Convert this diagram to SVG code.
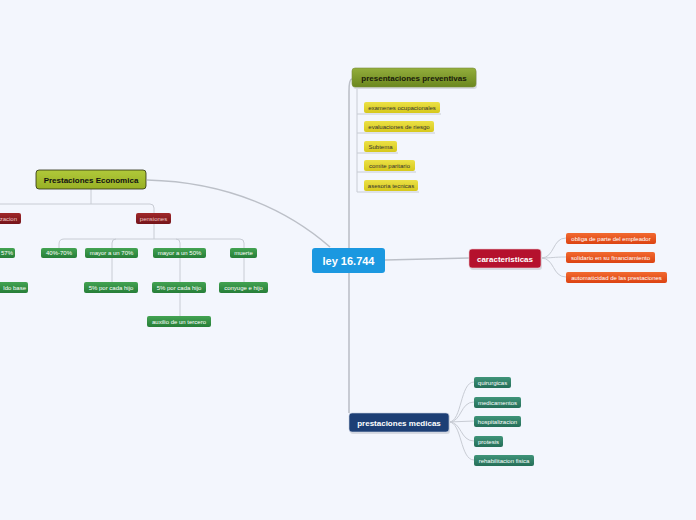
<svg xmlns="http://www.w3.org/2000/svg" width="696" height="520" viewBox="0 0 696 520">
<defs>
<linearGradient id="gOlive" x1="0" y1="0" x2="0" y2="1"><stop offset="0" stop-color="#93ae3c"/><stop offset="1" stop-color="#6b871f"/></linearGradient>
<linearGradient id="gLime" x1="0" y1="0" x2="0" y2="1"><stop offset="0" stop-color="#b0c93a"/><stop offset="1" stop-color="#98b024"/></linearGradient>
<linearGradient id="gYellow" x1="0" y1="0" x2="0" y2="1"><stop offset="0" stop-color="#ece146"/><stop offset="1" stop-color="#d6c81c"/></linearGradient>
<linearGradient id="gOrange" x1="0" y1="0" x2="0" y2="1"><stop offset="0" stop-color="#f26a30"/><stop offset="1" stop-color="#dc4312"/></linearGradient>
<linearGradient id="gTeal" x1="0" y1="0" x2="0" y2="1"><stop offset="0" stop-color="#3f9479"/><stop offset="1" stop-color="#256e58"/></linearGradient>
<linearGradient id="gGreen" x1="0" y1="0" x2="0" y2="1"><stop offset="0" stop-color="#43a352"/><stop offset="1" stop-color="#267e38"/></linearGradient>
<linearGradient id="gMaroon" x1="0" y1="0" x2="0" y2="1"><stop offset="0" stop-color="#a0282a"/><stop offset="1" stop-color="#74141a"/></linearGradient>
</defs>
<style>
text{font-family:"Liberation Sans",Arial,sans-serif;text-anchor:middle}
.sh{fill:#d7dae2}
.c1{fill:none;stroke:#bcc0c8;stroke-width:1.6}
.c2{fill:none;stroke:#c8ccd4;stroke-width:1}
.big{font-size:11px;font-weight:bold;fill:#fff}
.mid{font-size:8px;font-weight:bold}
.sm{font-size:6px;fill:#fff}
.smd{font-size:6px;fill:#333}
</style>
<rect width="696" height="520" fill="#f3f6fd"/>
<g id="connectors">
<path class="c1" d="M147,180 C230,182 290,212 330,247"/>
<path class="c1" d="M349,248 L349,92 Q349,79 352,79"/>
<path class="c1" d="M349,273 L349,413"/>
<path class="c1" d="M385,260 L469,258"/>
<path class="c2" d="M357,87 L357,192"/>
<path class="c2" d="M357,114 L441,114 M357,133 L435,133 M357,153 L398,153 M357,172 L416,172 M357,192 L419,192"/>
<path class="c2" d="M541,258 C555,258 552,238 566,238 M541,258 C553,258 553,257 566,257 M541,258 C555,258 552,277 566,277"/>
<path class="c2" d="M449,422 C462,422 460,382 474,382 M449,422 C462,422 460,402 474,402 M449,422 L474,421 M449,422 C462,422 460,441 474,441 M449,422 C462,422 460,460 474,460"/>
<path class="c2" d="M91,189 L91,204 M0,204 L150,204 Q154,204 154,208 L154,213"/>
<path class="c2" d="M154,224 L154,239 M64,239 L240,239 Q244,239 244,243 L244,248 M64,239 Q59,239 59,244 L59,248 M116,239 Q112,239 112,243 L112,248 M176,239 Q180,239 180,243 L180,248"/>
<path class="c2" d="M112,258 L112,282 M180,258 L180,316 M244,258 L244,282"/>
</g>
<g id="n-ley"><rect x="312" y="248" width="73" height="25" rx="3" fill="#1b98e0"/><text class="big" x="348.5" y="264.5">ley 16.744</text></g>
<g id="n-prev"><rect class="sh" x="353" y="70" width="124" height="19" rx="3"/><rect x="352" y="68" width="124" height="19" rx="3" fill="url(#gOlive)" stroke="#7a8f3a" stroke-width="0.6"/><text class="mid" x="414" y="80.5" fill="#1a1a0a">presentaciones preventivas</text></g>
<g id="n-p1"><rect x="364" y="102" width="76" height="11" rx="2" fill="url(#gYellow)"/><text class="smd" x="402" y="109.8">examenes ocupacionales</text></g>
<g id="n-p2"><rect x="364" y="121" width="70" height="11" rx="2" fill="url(#gYellow)"/><text class="smd" x="399" y="128.8">evaluaciones de riesgo</text></g>
<g id="n-p3"><rect x="364" y="141" width="33" height="11" rx="2" fill="url(#gYellow)"/><text class="smd" x="380.5" y="148.8">Subtema</text></g>
<g id="n-p4"><rect x="364" y="160" width="51" height="11" rx="2" fill="url(#gYellow)"/><text class="smd" x="389.5" y="167.8">comite paritario</text></g>
<g id="n-p5"><rect x="364" y="180" width="54" height="11" rx="2" fill="url(#gYellow)"/><text class="smd" x="391" y="187.8">asesoria tecnicas</text></g>
<g id="n-car"><rect class="sh" x="470" y="250" width="72" height="20" rx="3"/><rect x="469" y="249" width="72" height="19" rx="3" fill="#b5112d" stroke="#e8c8cc" stroke-width="0.6"/><text class="mid" x="505" y="261.5" fill="#fff">caracteristicas</text></g>
<g id="n-c1"><rect x="566" y="233" width="90" height="11" rx="2" fill="url(#gOrange)"/><text class="sm" x="611" y="240.8">obliga de parte del empleador</text></g>
<g id="n-c2"><rect x="566" y="252" width="89" height="11" rx="2" fill="url(#gOrange)"/><text class="sm" x="610.5" y="259.8">solidario en su financiamiento</text></g>
<g id="n-c3"><rect x="566" y="272" width="101" height="11" rx="2" fill="url(#gOrange)"/><text class="sm" x="616.5" y="279.8">automaticidad de las prestaciones</text></g>
<g id="n-med"><rect class="sh" x="350" y="414" width="100" height="20" rx="3"/><rect x="349" y="413" width="100" height="19" rx="3" fill="#1d3f75" stroke="#c8d0e0" stroke-width="0.6"/><text class="mid" x="399" y="425.5" fill="#fff">prestaciones medicas</text></g>
<g id="n-m1"><rect x="474" y="377" width="37" height="11" rx="2" fill="url(#gTeal)"/><text class="sm" x="492.5" y="384.8">quirurgicas</text></g>
<g id="n-m2"><rect x="474" y="397" width="47" height="11" rx="2" fill="url(#gTeal)"/><text class="sm" x="497.5" y="404.8">medicamentos</text></g>
<g id="n-m3"><rect x="474" y="416" width="47" height="11" rx="2" fill="url(#gTeal)"/><text class="sm" x="497.5" y="423.8">hospitalizacion</text></g>
<g id="n-m4"><rect x="474" y="436" width="29" height="11" rx="2" fill="url(#gTeal)"/><text class="sm" x="488.5" y="443.8">protesis</text></g>
<g id="n-m5"><rect x="474" y="455" width="60" height="11" rx="2" fill="url(#gTeal)"/><text class="sm" x="504" y="462.8">rehabilitacion fisica</text></g>
<g id="n-eco"><rect x="36" y="170" width="110" height="19" rx="3" fill="url(#gLime)" stroke="#2a2f10" stroke-width="0.8"/><text class="mid" x="91" y="182.5" fill="#111">Prestaciones Economica</text></g>
<g id="n-ind"><rect x="-20" y="213" width="41" height="11" rx="2" fill="url(#gMaroon)"/><text class="sm" x="17" y="220.8" style="text-anchor:end;fill:#f0c8c8">zacion</text></g>
<g id="n-pen"><rect x="136" y="213" width="35" height="11" rx="2" fill="url(#gMaroon)"/><text class="sm" x="153.5" y="220.8" style="fill:#f0c8c8">pensiones</text></g>
<g id="n-e57"><rect x="-10" y="248" width="25" height="10" rx="2" fill="url(#gGreen)"/><text class="sm" x="13" y="255.3" style="text-anchor:end">57%</text></g>
<g id="n-ebase"><rect x="-10" y="282" width="38" height="11" rx="2" fill="url(#gGreen)"/><text class="sm" x="26" y="289.8" style="text-anchor:end">ldo base</text></g>
<g id="n-e1"><rect x="41" y="248" width="36" height="10" rx="2" fill="url(#gGreen)"/><text class="sm" x="59" y="255.3">40%-70%</text></g>
<g id="n-e2"><rect x="85" y="248" width="53" height="10" rx="2" fill="url(#gGreen)"/><text class="sm" x="111.5" y="255.3">mayor a un 70%</text></g>
<g id="n-e3"><rect x="153" y="248" width="53" height="10" rx="2" fill="url(#gGreen)"/><text class="sm" x="179.5" y="255.3">mayor a un 50%</text></g>
<g id="n-e4"><rect x="230" y="248" width="27" height="10" rx="2" fill="url(#gGreen)"/><text class="sm" x="243.5" y="255.3">muerte</text></g>
<g id="n-e5"><rect x="84" y="282" width="54" height="11" rx="2" fill="url(#gGreen)"/><text class="sm" x="111" y="289.8">5% por cada hijo</text></g>
<g id="n-e6"><rect x="152" y="282" width="54" height="11" rx="2" fill="url(#gGreen)"/><text class="sm" x="179" y="289.8">5% por cada hijo</text></g>
<g id="n-e7"><rect x="147" y="316" width="64" height="11" rx="2" fill="url(#gGreen)"/><text class="sm" x="179" y="323.8">auxilio de un tercero</text></g>
<g id="n-e8"><rect x="219" y="282" width="49" height="11" rx="2" fill="url(#gGreen)"/><text class="sm" x="243.5" y="289.8">conyuge e hijo</text></g>
</svg>
